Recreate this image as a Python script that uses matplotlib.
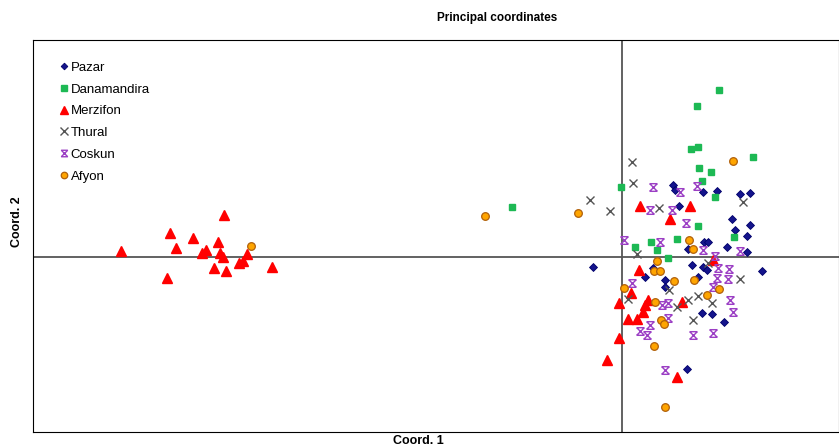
import matplotlib
matplotlib.use('Agg')
import matplotlib.pyplot as plt
from matplotlib.path import Path

plt.rcParams['font.family'] = ['Liberation Sans', 'DejaVu Sans']

# PCoA coordinates (coord1, coord2)

pazar_x = [0.51, 0.53, 0.81, 0.95, 1.18, 1.28, 0.57, 1.10, 1.28, 1.13, 1.25, 0.82, 0.86, 0.66, 1.05,
           1.25, -0.29, 0.70, 0.81, 0.85, 0.31, 0.23, 0.43, 0.43, 1.40, 0.76, 0.80, 0.90, 1.02, 0.65]
pazar_y = [0.72, 0.67, 0.65, 0.66, 0.63, 0.64, 0.51, 0.38, 0.32, 0.27, 0.21, 0.15, 0.15, 0.08, 0.10,
           0.05, -0.10, -0.08, -0.10, -0.13, -0.11, -0.20, -0.23, -0.30, -0.14, -0.20, -0.56, -0.57, -0.65, -1.12]

dana_x = [0.97, 0.75, 0.69, 0.76, 1.31, 0.77, 0.89, 0.80, -0.01, 0.93, 0.76, 0.29, 0.13, 0.35, 0.55,
          0.46, 1.12, -1.10]
dana_y = [1.67, 1.51, 1.08, 1.10, 1.00, 0.89, 0.85, 0.76, 0.70, 0.60, 0.31, 0.15, 0.10, 0.07, 0.18,
          -0.01, 0.20, 0.50]

merz_x = [-5.01, -4.52, -4.46, -4.29, -3.98, -4.04, -4.16, -4.20, -4.02, -3.99, -4.08, -3.96, -4.55,
          -3.75, -3.83, -3.79, -3.50,
          0.18, 0.68, 0.48, 0.91, 0.17, 0.09, -0.03, 0.26, 0.23, 0.21, 0.60, 0.06, 0.15, -0.03, -0.15, 0.55]
merz_y = [0.06, 0.24, 0.09, 0.19, 0.42, 0.15, 0.07, 0.04, 0.04, 0.00, -0.11, -0.14, -0.21,
          0.03, -0.06, -0.04, -0.10,
          0.51, 0.51, 0.38, -0.03, -0.13, -0.36, -0.46, -0.43, -0.48, -0.55, -0.45, -0.62, -0.62, -0.81, -1.03, -1.20]

thur_x = [0.10, 0.11, -0.32, -0.12, 0.37, 1.21, 0.15, 0.86, 1.18, 0.47, 0.06, 0.55, 0.76, 0.90, 0.71, 0.66]
thur_y = [0.95, 0.74, 0.57, 0.46, 0.49, 0.55, 0.03, -0.06, -0.22, -0.33, -0.42, -0.50, -0.39, -0.46, -0.63, -0.43]

cosk_x = [0.31, 0.58, 0.75, 0.28, 0.50, 0.64, 0.02, 0.38, 0.81, 1.18, 0.93, 0.96, 1.07, 1.06, 0.95,
          0.10, 0.91, 0.40, 0.46, 0.46, 0.18, 0.25, 0.28, 0.71, 0.91, 1.11, 0.43, 1.08]
cosk_y = [0.70, 0.65, 0.71, 0.47, 0.47, 0.34, 0.17, 0.15, 0.07, 0.06, 0.01, -0.11, -0.12, -0.22, -0.21,
          -0.26, -0.30, -0.48, -0.46, -0.61, -0.74, -0.78, -0.68, -0.78, -0.76, -0.55, -1.13, -0.43]

afyon_x = [-3.71, -1.37, -0.44, 1.11, 0.67, 0.71, 0.35, 0.32, 0.38, 0.52, 0.72, 0.97, 0.02, 0.85,
           0.33, 0.39, 0.42, 0.32, 0.43]
afyon_y = [0.11, 0.41, 0.44, 0.96, 0.17, 0.08, -0.04, -0.14, -0.14, -0.24, -0.23, -0.32, -0.31, -0.38,
           -0.45, -0.63, -0.67, -0.89, -1.50]

# x with bars on top and bottom, as drawn for Coskun
cosk_marker = Path([(-1, -1), (1, 1), (-1, 1), (1, -1), (-1, 1), (1, 1), (-1, -1), (1, -1)],
                   [Path.MOVETO, Path.LINETO] * 4)

fig = plt.figure(figsize=(8.39, 4.48), dpi=100)
ax = fig.add_axes([33 / 839, 16 / 448, 806 / 839, 392 / 448])

ax.axvline(0, color='#555555', lw=1.3, zorder=1)
ax.axhline(0, color='#555555', lw=1.3, zorder=1)

ax.plot(pazar_x, pazar_y, 'D', ms=4, color='#14148c', mec='#00006a', mew=0.6, ls='none', label='Pazar', zorder=3)
ax.plot(dana_x, dana_y, 's', ms=5, color='#1db954', mec='#1db954', ls='none', label='Danamandira', zorder=3)
ax.plot(merz_x, merz_y, '^', ms=6.5, color='#ff0000', mec='#ff0000', ls='none', label='Merzifon', zorder=3)
ax.plot(thur_x, thur_y, 'x', ms=6, color='#555555', mew=1.0, ls='none', label='Thural', zorder=3)
ax.plot(cosk_x, cosk_y, marker=cosk_marker, ms=5.5, color='#9b3fc4', mew=1.0, ls='none', label='Coskun', zorder=3)
ax.plot(afyon_x, afyon_y, 'o', ms=5.5, color='#ffa500', mec='#b0600a', mew=0.9, ls='none', label='Afyon', zorder=4)

ax.set_xlim(-5.89, 2.17)
ax.set_ylim(-1.75, 2.17)
ax.set_xticks([])
ax.set_yticks([])
for s in ax.spines.values():
    s.set_linewidth(0.8)

ax.legend(loc='upper left', bbox_to_anchor=(0.024, 0.965), frameon=False, fontsize=9.5,
          handlelength=0.6, handletextpad=0.2, labelspacing=0.72, markerscale=0.85,
          borderaxespad=0.2)

fig.text(497 / 839, 1 - 18 / 448, 'Principal coordinates', ha='center', va='center',
         fontsize=8.5, fontweight='bold')
fig.text(418 / 839, 1 - 441 / 448, 'Coord. 1', ha='center', va='center', fontsize=9, fontweight='bold')
fig.text(17 / 839, 1 - 222 / 448, 'Coord. 2', ha='center', va='center', rotation=90,
         fontsize=9, fontweight='bold')

fig.savefig('out.png', dpi=100)
